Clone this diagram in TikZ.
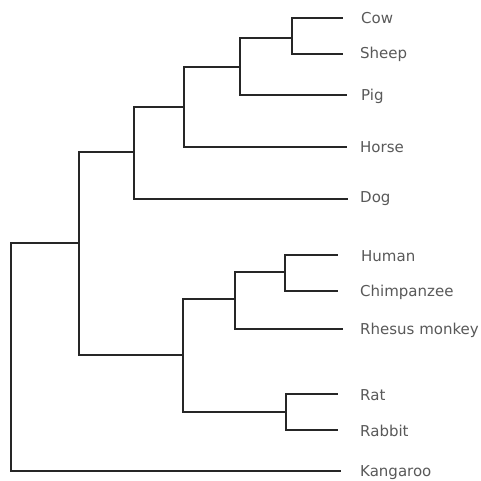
\documentclass[tikz,border=0pt]{standalone}
\usepackage{fontspec}
\setmainfont{DejaVu Sans}
\begin{document}
\begin{tikzpicture}[x=1pt,y=-1pt,
  branch/.style={draw=black!85,line width=2pt,line cap=rect},
  leaflabel/.style={anchor=west,inner sep=0pt,text=black!65,font=\fontsize{15}{17}\selectfont}]
\useasboundingbox[fill=white] (0,0) rectangle (481,481);
% internal nodes
\coordinate (root) at (11,243);
\coordinate (X) at (79,243);
\coordinate (L) at (134,152);
\coordinate (M) at (184,107);
\coordinate (N) at (240,67);
\coordinate (C) at (292,38);
\coordinate (P) at (183,355);
\coordinate (Q) at (235,299);
\coordinate (H) at (285,272);
\coordinate (R) at (286,412);
% tips
\coordinate (tCow) at (342,18);
\coordinate (tSheep) at (342,54);
\coordinate (tPig) at (346,95);
\coordinate (tHorse) at (346,147);
\coordinate (tDog) at (347,199);
\coordinate (tHuman) at (337,255);
\coordinate (tChimp) at (337,291);
\coordinate (tRhesus) at (342,329);
\coordinate (tRat) at (337,394);
\coordinate (tRabbit) at (337,430);
\coordinate (tKang) at (340,471);
% labels
\node[leaflabel] (lCow) at (361,18) {Cow};
\node[leaflabel] (lSheep) at (360,54) {Sheep};
\node[leaflabel] (lPig) at (361,96) {Pig};
\node[leaflabel] (lHorse) at (360,147) {Horse};
\node[leaflabel] (lDog) at (360,199) {Dog};
\node[leaflabel] (lHuman) at (361,256) {Human};
\node[leaflabel] (lChimp) at (360,292) {Chimpanzee};
\node[leaflabel] (lRhesus) at (360,330) {Rhesus monkey};
\node[leaflabel] (lRat) at (360,395) {Rat};
\node[leaflabel] (lRabbit) at (360,431) {Rabbit};
\node[leaflabel] (lKang) at (360,473) {Kangaroo};
% branches
\draw[branch] (root) -- (X);
\draw[branch] (root) |- (tKang);
\draw[branch] (X) |- (L);
\draw[branch] (X) |- (P);
\draw[branch] (L) |- (M);
\draw[branch] (L) |- (tDog);
\draw[branch] (M) |- (N);
\draw[branch] (M) |- (tHorse);
\draw[branch] (N) |- (C);
\draw[branch] (N) |- (tPig);
\draw[branch] (C) |- (tCow);
\draw[branch] (C) |- (tSheep);
\draw[branch] (P) |- (Q);
\draw[branch] (P) |- (R);
\draw[branch] (Q) |- (H);
\draw[branch] (Q) |- (tRhesus);
\draw[branch] (H) |- (tHuman);
\draw[branch] (H) |- (tChimp);
\draw[branch] (R) |- (tRat);
\draw[branch] (R) |- (tRabbit);
\end{tikzpicture}
\end{document}
